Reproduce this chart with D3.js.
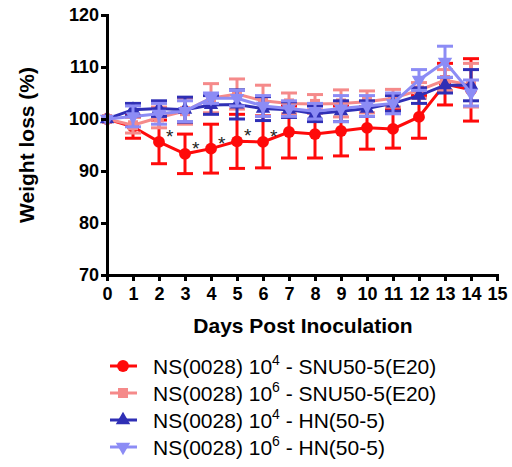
<!DOCTYPE html>
<html>
<head>
<meta charset="utf-8">
<script src="https://cdn.jsdelivr.net/npm/d3@7"></script>
<style>
  body { margin: 0; background: #fff; }
  svg { font-family: "Liberation Sans", Arial, sans-serif; }
</style>
</head>
<body>
<div id="chart"></div>
<script>
const days = [0, 1, 2, 3, 4, 5, 6, 7, 8, 9, 10, 11, 12, 13, 14];
const xTicks = [0, 1, 2, 3, 4, 5, 6, 7, 8, 9, 10, 11, 12, 13, 14, 15];
const yTicks = [70, 80, 90, 100, 110, 120];

const redMean = [100, 98.5, 95.6, 93.3, 94.3, 95.7, 95.6, 97.5, 97.1, 97.7, 98.3, 98.1, 100.4, 106.7, 105.6];
const redErr = [0, 2.2, 4.2, 3.8, 4.7, 5.2, 5.0, 5.0, 4.6, 4.8, 4.1, 3.7, 4.1, 4.0, 6.0];
const pinkMean = [100, 98.8, 100.3, 101.5, 104, 104.8, 103.5, 103, 102.9, 103, 103.3, 104, 105.5, 107.5, 106.5];
const pinkErr = [0, 1.5, 2.0, 2.5, 2.8, 2.9, 3.0, 2.0, 1.8, 2.6, 2.1, 1.7, 1.5, 2.0, 4.2];
const navyMean = [100, 101.8, 102, 101.8, 102.7, 102.8, 102, 101.8, 101, 101.5, 102, 103, 104.5, 106.5, 106.5];
const navyErr = [0, 1.2, 1.5, 2.4, 1.8, 2.8, 2.3, 1.5, 1.5, 2.0, 1.5, 1.5, 1.5, 1.5, 3.0];
const lightMean = [100, 100.5, 101, 101.5, 104, 104, 102.5, 102, 101.5, 102, 102.5, 103, 107.5, 111, 105];
const lightErr = [0, 2.0, 2.0, 2.0, 1.0, 1.5, 2.0, 1.5, 1.5, 2.5, 2.0, 2.0, 2.0, 3.0, 2.5];
const starDays = [2, 3, 4, 5, 6];

const series = [
  { name: "SNU50-5(E20)", exp: "4", mean: redMean, err: redErr, color: "#ff0a0a", shape: "circle" },
  { name: "SNU50-5(E20)", exp: "6", mean: pinkMean, err: pinkErr, color: "#f58a8a", shape: "square" },
  { name: "HN(50-5)", exp: "4", mean: navyMean, err: navyErr, color: "#2f2fb5", shape: "up" },
  { name: "HN(50-5)", exp: "6", mean: lightMean, err: lightErr, color: "#8c8cf5", shape: "down" }
];

const width = 512, height = 467;
const margin = { left: 107, right: 15, top: 15, bottom: 192 };

const svg = d3.select('#chart').append('svg')
    .attr('width', width)
    .attr('height', height);

const x = d3.scaleLinear().domain([0, 15]).range([margin.left, 497]);
const y = d3.scaleLinear().domain([70, 120]).range([275, 15]);

const symbolFor = {
  circle: d3.symbol().type(d3.symbolCircle).size(110),
  square: d3.symbol().type(d3.symbolSquare).size(100),
  up: d3.symbol().type(d3.symbolTriangle).size(90),
  down: d3.symbol().type(d3.symbolTriangle).size(90)
};

const lineBuilder = d3.line()
    .x((d, i) => x(days[i]))
    .y(d => y(d));

const plot = svg.append('g');
series.forEach(s => {
  const g = plot.append('g');
  // error bars
  days.forEach((d, i) => {
    if (s.err[i] === 0) return;
    const top = y(s.mean[i] + s.err[i]), bot = y(s.mean[i] - s.err[i]);
    g.append('line').attr('x1', x(d)).attr('x2', x(d)).attr('y1', top).attr('y2', bot)
        .attr('stroke', s.color).attr('stroke-width', 3);
    [top, bot].forEach(yy => {
      g.append('line').attr('x1', x(d) - 8).attr('x2', x(d) + 8).attr('y1', yy).attr('y2', yy)
          .attr('stroke', s.color).attr('stroke-width', 3);
    });
  });
  g.append('path')
      .attr('d', lineBuilder(s.mean))
      .attr('fill', 'none')
      .attr('stroke', s.color)
      .attr('stroke-width', 3);
  g.selectAll('.pt')
      .data(s.mean)
      .enter()
      .append('path')
      .attr('d', symbolFor[s.shape])
      .attr('transform', (d, i) => `translate(${x(days[i])},${y(d)})` + (s.shape === 'down' ? ' rotate(180)' : ''))
      .attr('fill', s.color);
});

// significance stars
svg.selectAll('.star')
    .data(starDays)
    .enter()
    .append('text')
    .attr('x', d => x(d) + 7)
    .attr('y', d => y(redMean[d]) + 1)
    .attr('font-size', 19)
    .attr('fill', '#222')
    .text('*');

// axes
const yAxis = svg.append('g')
    .attr('transform', `translate(${margin.left},0)`)
    .call(d3.axisLeft(y).tickValues(yTicks).tickSize(6).tickPadding(2));
const xAxis = svg.append('g')
    .attr('transform', `translate(0,${y(70)})`)
    .call(d3.axisBottom(x).tickValues(xTicks).tickSize(6).tickPadding(6));
[yAxis, xAxis].forEach(a => {
  a.select('.domain').attr('stroke', '#000').attr('stroke-width', 3);
  a.selectAll('.tick line').attr('stroke', '#000').attr('stroke-width', 3);
  a.selectAll('.tick text')
      .attr('font-family', '"Liberation Sans", Arial, sans-serif')
      .attr('font-size', 18)
      .attr('font-weight', 'bold')
      .attr('fill', '#000');
});

// axis titles
svg.append('text')
    .attr('transform', 'translate(34,145) rotate(-90)')
    .attr('text-anchor', 'middle')
    .attr('font-size', 21)
    .attr('font-weight', 'bold')
    .text('Weight loss (%)');
svg.append('text')
    .attr('x', 303)
    .attr('y', 333)
    .attr('text-anchor', 'middle')
    .attr('font-size', 21)
    .attr('font-weight', 'bold')
    .text('Days Post Inoculation');

// legend
const legendY = [366, 393, 420, 447];
series.forEach((s, i) => {
  const g = svg.append('g').attr('transform', `translate(0,${legendY[i]})`);
  g.append('line').attr('x1', 110).attr('x2', 137).attr('y1', 0).attr('y2', 0)
      .attr('stroke', s.color).attr('stroke-width', 3);
  g.append('path').attr('d', symbolFor[s.shape])
      .attr('transform', 'translate(123,0)' + (s.shape === 'down' ? ' rotate(180)' : ''))
      .attr('fill', s.color);
  const t = g.append('text').attr('x', 153).attr('y', 8).attr('font-size', 21).attr('fill', '#000');
  t.append('tspan').text('NS(0028) 10');
  t.append('tspan').attr('font-size', 14).attr('dy', -9).text(s.exp);
  t.append('tspan').attr('dy', 9).text(' - ' + s.name);
});
</script>
</body>
</html>
